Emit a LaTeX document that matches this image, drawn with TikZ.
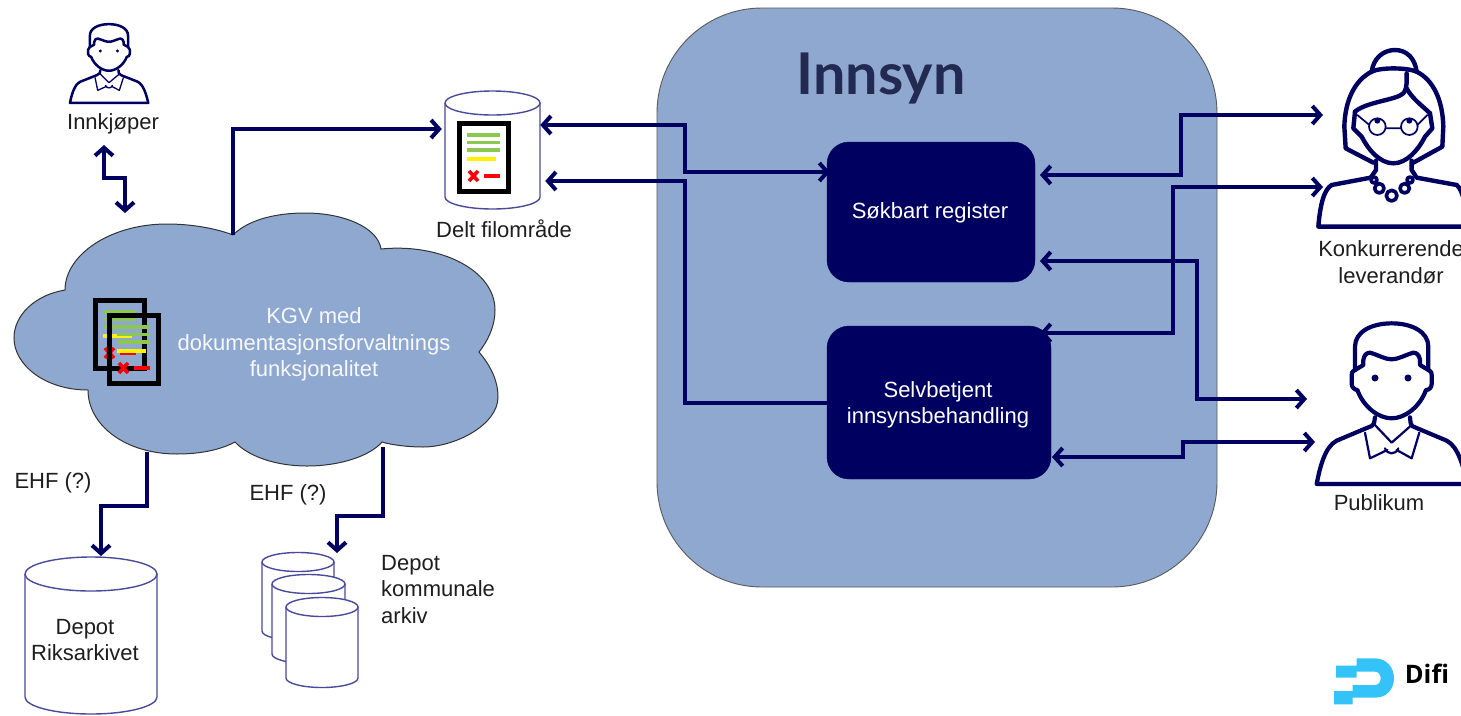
\documentclass[tikz,border=0pt]{standalone}
\usepackage{fontspec}
\setmainfont{Liberation Sans}
\newfontfamily\logofont{Lato}
\newfontfamily\difont{Open Sans}
\usetikzlibrary{arrows.meta,calc}
\definecolor{navy}{HTML}{000060}
\definecolor{pale}{HTML}{8FA8CF}
\definecolor{cylline}{HTML}{4A4A9A}
\definecolor{inktext}{HTML}{232A52}
\definecolor{difiblue}{HTML}{33C3F8}
\definecolor{lbl}{HTML}{1E1E1E}
\definecolor{docgreen}{HTML}{8CC850}
\newcommand{\cylshape}[5]{%
  \filldraw[cylbody] (#1,#3) -- (#1,#4) arc[start angle=180,end angle=0,x radius={(#2-#1)/2},y radius=#5] -- (#2,#3);
  \filldraw[cylbody] ({(#1+#2)/2},#3) ellipse[x radius={(#2-#1)/2},y radius=#5];
}
\newcommand{\docicon}[2]{%
  \begin{scope}[shift={(#1,#2)}]
    \foreach \yy in {14,21.5,29}{\draw[line width=3.6,draw=docgreen] (10,\yy) -- (43,\yy);}
    \draw[line width=4.2,draw=yellow] (10,38) -- (39,38);
    \draw[line width=3.6,draw=red] (12,50) -- (21,60) (21,50) -- (12,60);
    \draw[line width=3.2,draw=red] (27,55) -- (43,55);
    \draw[line width=5] (2.5,2.5) rectangle (51.5,70.5);
  \end{scope}}
\newcommand{\manicon}[3]{%
  \begin{scope}[draw=navy,line join=round,line cap=round,line width=#1]
    \draw (165,180) -- (165,110) .. controls (165,65) and (215,40) .. (275,40) .. controls (335,40) and (385,65) .. (385,110) -- (385,180);
    \draw (165,180) -- (190,165) -- (190,150) .. controls (192,135) and (200,128) .. (210,128) .. controls (235,135) and (255,148) .. (275,148) .. controls (295,148) and (315,135) .. (340,128) .. controls (350,128) and (358,135) .. (360,150) -- (360,165) -- (385,180);
    \draw (165,180) .. controls (155,185) and (155,190) .. (155,195) -- (155,222) .. controls (155,232) and (165,240) .. (172,240) .. controls (190,290) and (235,325) .. (275,325) .. controls (315,325) and (360,290) .. (378,240) .. controls (388,240) and (395,232) .. (395,222) -- (395,195) .. controls (395,190) and (395,185) .. (385,180);
    \draw (225,322) -- (222,340) .. controls (218,348) and (212,350) .. (205,352) -- (110,392) .. controls (75,410) and (60,470) .. (50,522) -- (502,522) .. controls (490,470) and (475,410) .. (440,392) -- (345,352) .. controls (338,350) and (335,348) .. (332,340) -- (330,322);
    \begin{scope}[line width=#2]
      \draw (222,342) -- (275,398) -- (335,345);
      \draw (195,368) -- (210,445) -- (262,420);
      \draw (358,368) -- (335,445) -- (290,420);
      \draw (255,415) .. controls (262,435) and (288,435) .. (295,415);
    \end{scope}
    \fill[navy] (225,204) circle[radius=#3] (324,204) circle[radius=#3];
  \end{scope}}
\tikzset{
  x=1pt,y=-1pt,
  conn/.style={draw=navy,line width=4,>={Straight Barb[length=8,width=18,line width=4]}},
  cylbody/.style={draw=cylline,fill=white,line width=1.4},
  lab/.style={text=lbl,font=\fontsize{22}{26.5}\selectfont,align=center,inner sep=0},
  wlab/.style={text=white,font=\fontsize{22}{26.5}\selectfont,align=center,inner sep=0},
  hit/.style={inner sep=0,outer sep=0,draw=none},
  darkbox/.style={fill=navy,draw=navy,rounded corners=22,inner sep=0,outer sep=0},
}
\begin{document}
\begin{tikzpicture}
\useasboundingbox (0,0) rectangle (1461,715);
\fill[white] (0,0) rectangle (1461,715);
% Innsyn panel
\node[hit,fill=pale,draw=black!65,line width=0.9,rounded corners=105,minimum width=560,minimum height=579] (main) at (937,297.5) {};
\node[inner sep=0,anchor=base,text=inktext,font=\logofont\bfseries\fontsize{57.5}{58}\selectfont] (innsyn) at (881,94) {Innsyn};
\node[darkbox,minimum width=208,minimum height=140] (reg) at (931,212) {};
\node[wlab] at (930,213) {Søkbart register};
\node[darkbox,minimum width=224,minimum height=153] (self) at (939,402.5) {};
\node[wlab] at (938,405) {Selvbetjent\\innsynsbehandling};
% Cloud
\node[hit,minimum width=484,minimum height=253] (cloud) at (256,339.5) {};
\filldraw[fill=pale,draw=black!80,line width=1] (233,235) .. controls (250,218) and (280,213) .. (305,213) .. controls (345,213) and (378,228) .. (381,249)
  .. controls (440,243) and (495,270) .. (495,310) .. controls (495,327) and (487,342) .. (479,352)
  .. controls (490,365) and (498,380) .. (498,397) .. controls (498,425) and (455,447) .. (423,447) .. controls (408,447) and (392,445) .. (382,442)
  .. controls (370,456) and (340,466) .. (307,466) .. controls (275,466) and (248,456) .. (235,442)
  .. controls (220,450) and (200,454) .. (177,454) .. controls (125,454) and (88,425) .. (88,390)
  .. controls (45,390) and (14,365) .. (14,338) .. controls (14,315) and (35,295) .. (65,290)
  .. controls (65,255) and (110,224) .. (167,224) .. controls (190,224) and (215,228) .. (233,235) -- cycle;
\node[wlab,text=white!92!pale] (kgv) at (314,344.5) {KGV med\\dokumentasjonsforvaltnings\\funksjonalitet};
\docicon{93}{298}
\docicon{107}{313}
% File store
\node[hit,minimum width=95.5,minimum height=118] (file) at (492.5,150) {};
\cylshape{445}{540}{103}{197}{12}
\fill[white] (457,121) rectangle (511,194);
\docicon{457}{121}
\node[lab] (filelab) at (504,229) {Delt filområde};
% Depots
\node[hit,minimum width=132,minimum height=157] (riks) at (91,635.5) {};
\cylshape{25}{157}{574}{697}{17}
\node[lab] at (85,640) {Depot\\Riksarkivet};
\node[hit,minimum width=96,minimum height=133] (stack) at (310,619.5) {};
\cylshape{262}{334}{562}{631}{9.5}
\cylshape{272}{345}{584}{654}{9.5}
\cylshape{286}{358}{607}{678}{9.5}
\node[lab,align=left,anchor=west] at (381,589.5) {Depot\\kommunale\\arkiv};
\node[lab] at (53,483) {EHF (?)};
\node[lab] at (288,495) {EHF (?)};
% People
\begin{scope}[shift={(61.3,17.6)},x=0.1733pt,y=-0.1635pt]
  \manicon{2.5}{1.3}{10}
\end{scope}
\node[lab] (innk) at (113,124) {Innkjøper};
\coordinate (innkS) at (113,134);
\node[hit,minimum width=145,minimum height=163] (man) at (1388.5,403.5) {};
\begin{scope}[shift={(1300,310)},x=0.3333pt,y=-0.3333pt]
  \manicon{4.2}{2.2}{10.5}
\end{scope}
\node[lab] at (1379,503) {Publikum};
\node[hit,minimum width=144,minimum height=177] (woman) at (1389,138.5) {};
\begin{scope}[shift={(1300,30)},x=0.3333pt,y=-0.3333pt,draw=navy,line join=round,line cap=round,line width=4.4]
  \draw (215,125) .. controls (220,85) and (250,60) .. (285,60) .. controls (320,60) and (345,85) .. (350,125);
  \draw (215,125) .. controls (240,112) and (320,112) .. (350,125) .. controls (400,150) and (428,210) .. (430,290) -- (427,350) -- (340,398);
  \draw (215,125) .. controls (165,150) and (135,210) .. (133,290) -- (137,355) -- (220,398);
  \draw (320,130) .. controls (318,150) and (325,170) .. (310,190) .. controls (290,210) and (200,215) .. (165,245);
  \draw (320,175) .. controls (335,205) and (370,230) .. (390,250);
  \draw (165,245) -- (160,295) -- (185,320) .. controls (205,360) and (240,400) .. (280,400) .. controls (320,400) and (355,360) .. (375,320) -- (397,295) -- (390,250);
  \draw (228,392) -- (228,420) -- (212,443) -- (95,465) .. controls (70,480) and (60,530) .. (55,590) -- (510,590) .. controls (495,530) and (490,480) .. (470,465) -- (350,443) -- (335,420) -- (335,392);
  \begin{scope}[line width=1.7]
    \draw (232,290) circle[radius=25] (328,290) circle[radius=25];
    \draw (258,295) -- (303,295) (172,255) -- (208,285) (382,255) -- (352,285);
  \end{scope}
  \fill[navy] (232,272) circle[radius=9] (328,272) circle[radius=9];
  \begin{scope}[line width=3.6]
    \filldraw[fill=white] (222,450) circle[radius=9] (238,475) circle[radius=14] (275,497) circle[radius=16] (314,475) circle[radius=14] (330,450) circle[radius=9];
  \end{scope}
\end{scope}
\node[lab] (konk) at (1391,262) {Konkurrerende\\leverandør};
% Connectors
\draw[conn,<->] ([xshift=-9pt,yshift=-11pt]innkS) |- (115,178) -| ([xshift=-131pt]cloud.north);
\draw[conn,->] ([xshift=-23pt,yshift=-22pt]cloud.north) |- ([xshift=-3pt,yshift=21pt]file.west);
\draw[conn,<->] ([yshift=25pt]file.east) -| (685,150) |- ([xshift=3pt,yshift=40pt]reg.west);
\draw[conn,<-] ([xshift=5pt,yshift=-31pt]file.east) -| (685,300) |- ([xshift=1pt]self.west);
\draw[conn,<->] ([xshift=5pt,yshift=37pt]reg.east) -| (1181,150) |- ([xshift=6pt,yshift=23.5pt]woman.west);
\draw[conn,<->] ([xshift=-11pt,yshift=69.5pt]self.east) -| (1173,260) |- ([xshift=6pt,yshift=-48.5pt]woman.west);
\draw[conn,<->] ([xshift=5pt,yshift=-49pt]reg.east) -| (1197,330) |- ([xshift=-9pt,yshift=4.5pt]man.west);
\draw[conn,<->] ([xshift=1pt,yshift=-54.5pt]self.east) -| (1183,450) |- ([xshift=-1pt,yshift=-38.5pt]man.west);
\draw[conn,->] ([xshift=-109pt,yshift=14pt]cloud.south) |- (125,506) -| ([xshift=10pt,yshift=1pt]riks.north);
\draw[conn,->] ([xshift=127pt,yshift=19pt]cloud.south) |- (360,516) -| ([xshift=27pt]stack.north);
% Difi logo
\begin{scope}[shift={(1320,645)},x=0.3333pt,y=-0.3333pt]
  \fill[difiblue] (48,62) -- (110,62) -- (110,40) -- (165,40) .. controls (200,40) and (222,68) .. (222,100) .. controls (222,132) and (200,158) .. (165,158) -- (98,158) -- (98,178) -- (42,178) -- (42,138) -- (98,138) -- (98,120) -- (165,120) .. controls (176,120) and (182,110) .. (182,100) .. controls (182,90) and (176,80) .. (165,80) -- (110,80) -- (110,98) -- (48,98) -- cycle;
\end{scope}
\node[inner sep=0,anchor=base,text=black,font=\difont\bfseries\fontsize{25.5}{26}\selectfont] (difi) at (1427,683) {Dif\kern0pt i};
\end{tikzpicture}
\end{document}
